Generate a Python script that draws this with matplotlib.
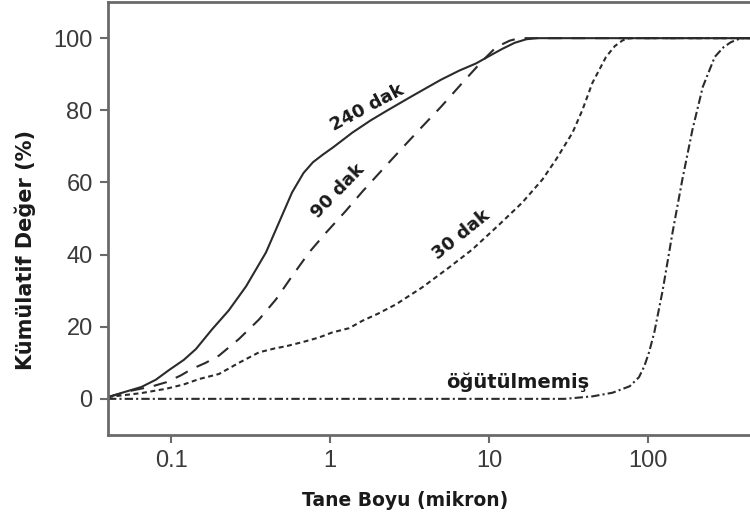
import numpy as np
import matplotlib.pyplot as plt
from matplotlib.ticker import FixedLocator, NullLocator

# kümülatif tane boyu dağılımları (mikron, %)
x_240 = [0.04, 0.05, 0.065, 0.08, 0.097, 0.12, 0.143, 0.181, 0.23, 0.296, 0.395,
         0.477, 0.576, 0.68, 0.78, 0.9, 1.05, 1.38, 1.8, 2.3, 3.3, 5.0, 6.5,
         8.3, 10, 12.1, 14.5, 17.2, 20, 450]
y_240 = [0.5, 1.8, 3.3, 5.3, 8.0, 10.8, 13.8, 19.3, 24.5, 31.2, 40.6,
         48.9, 57.2, 62.6, 65.6, 67.7, 69.8, 73.8, 77.2, 80.0, 84.0, 88.5, 91.0,
         93.0, 95.0, 97.0, 98.7, 99.7, 100, 100]

x_90 = [0.04, 0.0565, 0.075, 0.093, 0.115, 0.135, 0.165, 0.20, 0.267, 0.357,
        0.457, 0.576, 0.738, 0.94, 1.25, 1.6, 2.13, 2.8, 3.64, 5.0, 6.8, 9.0,
        11.1, 13.5, 15.5, 450]
y_90 = [0.5, 2.3, 3.4, 4.6, 6.5, 8.3, 10.0, 12.0, 16.6, 22.0,
        27.6, 34.0, 40.6, 46.0, 52.0, 57.5, 63.5, 69.2, 74.6, 81.0, 87.6, 93.5,
        97.5, 99.3, 100, 100]

x_30 = [0.04, 0.065, 0.093, 0.12, 0.15, 0.20, 0.267, 0.357, 0.45, 0.53, 0.68,
        0.85, 1.03, 1.32, 1.59, 2.0, 2.6, 3.8, 5.6, 7.85, 11.6, 16.2, 21.7,
        26.4, 33.6, 38.7, 44.8, 54.6, 62, 69.5, 77, 450]
y_30 = [0.5, 1.6, 2.8, 4.0, 5.5, 6.9, 10.0, 12.9, 14.0, 14.6, 15.8,
        17.0, 18.4, 19.6, 21.6, 23.6, 26.2, 30.9, 36.4, 41.4, 48.3, 54.4, 60.8,
        66.3, 73.8, 80.0, 87.6, 94.8, 97.8, 99.4, 100, 100]

x_og = [0.04, 30, 45, 60, 77, 88, 95, 102, 110, 124, 143, 165, 191, 222, 264,
        300, 334, 386, 450]
y_og = [0, 0, 0.7, 1.7, 3.5, 6.0, 9.0, 13.0, 18.5, 30, 46, 60.8, 74.6, 86.5, 94.8,
        97.5, 98.9, 100, 100]

xticks = [0.1, 1, 10, 100]
xtick_labels = ['0.1', '1', '10', '100']
yticks = [0, 20, 40, 60, 80, 100]

line_color = '#2b2b2b'
spine_color = '#6a6a6a'

fig = plt.figure(figsize=(7.5, 5.24), dpi=100)
ax = fig.add_axes([0.144, 0.170, 0.856, 0.826])

ax.plot(x_240, y_240, color=line_color, lw=1.5, ls='-')
ax.plot(x_90, y_90, color=line_color, lw=1.5, ls=(0, (6.5, 4.8)))
ax.plot(x_30, y_30, color=line_color, lw=1.5, ls=(0, (2.4, 1.7)))
ax.plot(x_og, y_og, color=line_color, lw=1.5, ls=(0, (4, 1.5, 1, 1.5)))

ax.set_xscale('log')
ax.set_xlim(0.04, 440)
ax.set_ylim(-10, 110)
ax.xaxis.set_major_locator(FixedLocator(xticks))
ax.xaxis.set_minor_locator(NullLocator())
ax.set_xticklabels(xtick_labels)
ax.set_yticks(yticks)

for side in ['left', 'bottom', 'top']:
    ax.spines[side].set_color(spine_color)
    ax.spines[side].set_linewidth(2)
ax.spines['right'].set_visible(False)
ax.tick_params(direction='out', length=6, width=1.5, color=spine_color,
               labelsize=17, labelcolor='#3a3a3a', pad=5)
for lbl in ax.get_xticklabels() + ax.get_yticklabels():
    lbl.set_family('Liberation Sans')

ax.set_xlabel('Tane Boyu (mikron)', family='DejaVu Sans', weight='bold',
              size=13.5, color='#1a1a1a')
ax.set_ylabel('Kümülatif Değer (%)', family='DejaVu Sans', weight='bold',
              size=15, color='#1a1a1a')
ax.xaxis.set_label_coords(0.463, -0.13)
ax.yaxis.set_label_coords(-0.112, 0.427)

# eğri etiketleri
txt_font = dict(family='DejaVu Sans', weight='bold', color='#1a1a1a',
                ha='center', va='center', rotation_mode='anchor')
ax.text(1.72, 80.8, '240 dak', rotation=28, size=13, **txt_font)
ax.text(1.12, 57.5, '90 dak', rotation=46, size=13, **txt_font)
ax.text(6.7, 45.6, '30 dak', rotation=39, size=13, **txt_font)
ax.text(15.1, 4.7, 'öğütülmemiş', rotation=0, size=14, **txt_font)

fig.savefig('out.png', dpi=100)
